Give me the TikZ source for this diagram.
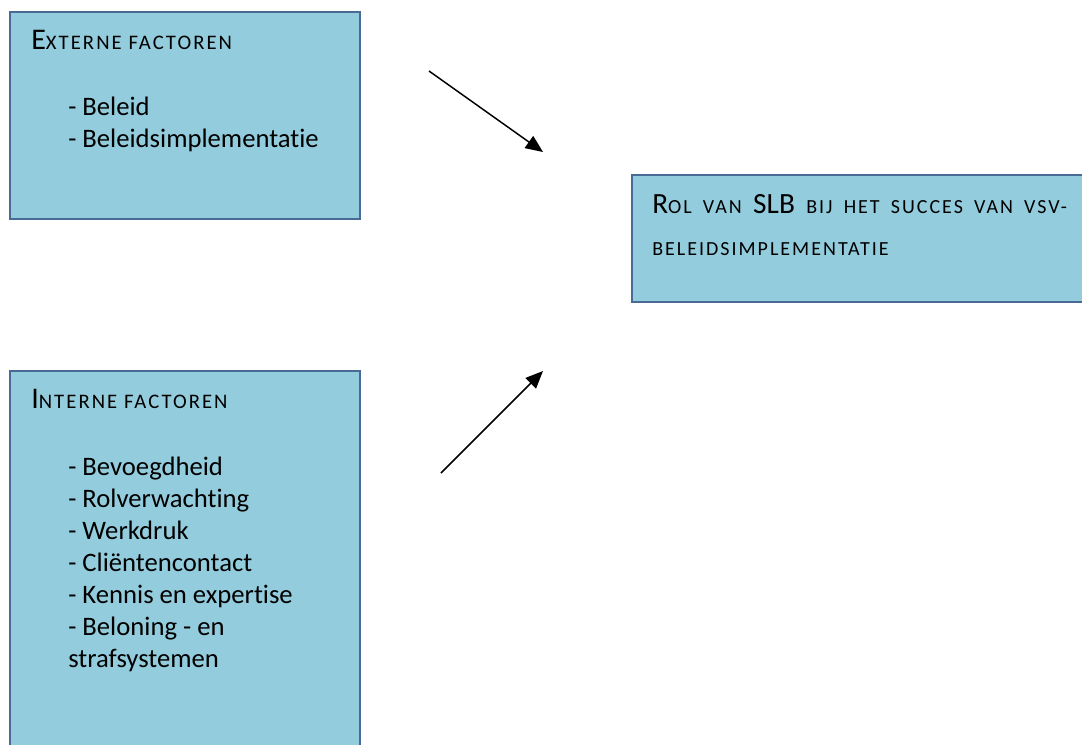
\documentclass[tikz,border=0pt]{standalone}
\usepackage{fontspec}
\setmainfont{Carlito}[Ligatures=NoCommon]
\usetikzlibrary{positioning,arrows.meta}

\definecolor{boxfill}{HTML}{93CDDD}
\definecolor{boxline}{HTML}{4A6A96}

% nagemaakte kleine hoofdletters
\newcommand{\kl}[2][15.5]{{\fontsize{#1}{#1}\selectfont\addfontfeature{LetterSpace=10}\MakeUppercase{#2}}}

\begin{document}
\begin{tikzpicture}[x=0.75pt,y=-0.75pt,
   factorbox/.style={rectangle,draw=boxline,fill=boxfill,line width=1.5pt,
      inner sep=0pt,anchor=north west},
   kop/.style={anchor=base west,inner sep=0pt,font=\fontsize{22.5}{24}\selectfont},
   lijst/.style={anchor=base west,inner sep=0pt,align=left,
      font=\fontsize{20}{24}\selectfont},
   pijl/.style={-{Triangle[length=13pt,width=11pt]},line width=1.1pt}]
   \clip (0,0) rectangle (1082,744);

   % factoren links (lijsten staan op de basislijn van hun laatste regel)
   \node[factorbox,minimum width=263pt,minimum height=155.5pt] (extern) at (8.5,10.5) {};
   \node[kop] (externkop) at (31,49) {E\kl{xterne factoren}};
   \node[lijst] (externlijst) at (68,147.5) {- Beleid\\- Beleidsimplementatie};

   \node[factorbox,minimum width=263pt,minimum height=300pt] (intern) at (8.5,370) {};
   \node[kop] (internkop) at (31,408) {I\kl{nterne factoren}};
   \node[lijst] (internlijst) at (68,667) {- Bevoegdheid\\- Rolverwachting\\- Werkdruk\\
      - Cliëntencontact\\- Kennis en expertise\\- Beloning - en\\strafsystemen};

   % uitkomst rechts (tekstbreedte: basislijn van de eerste regel)
   \node[factorbox,minimum width=360pt,minimum height=95.5pt] (rol) at (631,173.5) {};
   \node[anchor=base west,inner sep=0pt,text width=311pt,align=justify,
      font=\fontsize{22}{31.5}\selectfont]
      (roltekst) at (652,213) {R\kl[15]{ol van} SLB \kl[15]{bij het succes van vsv-}\linebreak
      \kl[15]{beleidsimplementatie}};

   % pijlen
   \coordinate (p1a) at (429,71);
   \coordinate (p1b) at (543,152);
   \coordinate (p2a) at (441,473);
   \coordinate (p2b) at (543,371);
   \draw[pijl] (p1a) -- (p1b);
   \draw[pijl] (p2a) -- (p2b);
\end{tikzpicture}
\end{document}
